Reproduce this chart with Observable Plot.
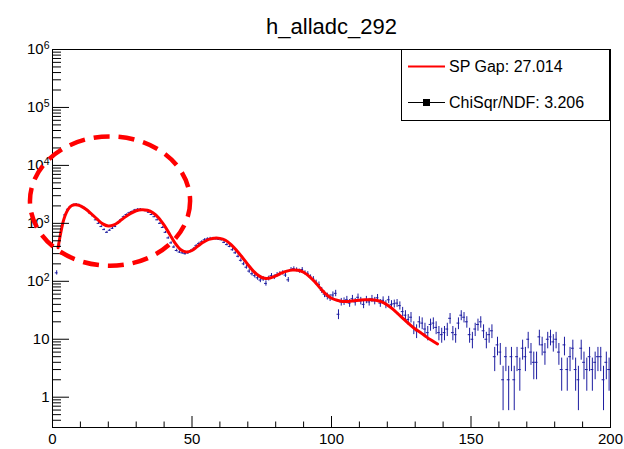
<!DOCTYPE html>
<html><head><meta charset="utf-8">
<script src="https://cdn.jsdelivr.net/npm/d3@7"></script>
<script src="https://cdn.jsdelivr.net/npm/@observablehq/plot@0.6"></script>
<style>
body{margin:0;background:#fff;}
#chart{width:624px;height:449px;}
svg{font-family:"Liberation Sans",Arial,Helvetica,sans-serif;}
</style>
</head><body><div id="chart"></div>
<script>
const title = "h_alladc_292";
// histogram counts, one per bin of width 1 starting at 0
const counts = [
  0,140,420,900,1400,1750,1950,2100,2150,2100,
  1950,1850,1700,1500,1350,1150,1000,880,780,700,
  760,820,880,1000,1150,1300,1420,1520,1600,1700,
  1750,1760,1700,1650,1550,1420,1300,1150,1000,850,
  700,560,460,390,340,320,310,300,310,330,
  360,410,450,480,520,540,550,550,540,530,
  520,470,430,400,350,310,270,230,200,175,
  150,135,125,115,105,110,92,112,125,118,
  130,135,140,128,106,160,165,158,150,160,
  140,135,118,110,95,88,70,60,55,52,
  58,62,27,44,45,48,42,50,44,53,
  46,40,48,44,50,46,52,42,47,40,
  48,40,41,42,38,30,26,22,24,16,
  14,20,19,15,13,18,19,16,13,12,
  13,15,23,13,12,19,26,24,20,12,
  10,15,18,20,14,10,12,14,5,8,
  6,2,5,2,5,2,5,3,7,5,
  10,6,4,4,11,8,6,10,11,9,
  10,6,3,8,3,5,7,3,2,7,
  4,3,5,3,4,5,5,2,4,3
];
// fit curve samples
const fitX = [2,3,4,5,6,7,8,9,10,12,14,16,18,20,22,24,26,28,30,32,34,36,38,40,42,44,46,48,50,52,54,56,58,60,62,64,66,68,70,72,74,76,78,80,82,84,86,88,90,92,94,96,98,100,102,104,106,108,110,112,114,116,118,120,122,124,126,128,130,132,134,136,138];
const fitY = [380,700,1150,1550,1850,2030,2100,2080,2000,1750,1450,1180,980,900,940,1080,1280,1480,1650,1720,1680,1520,1250,930,650,450,350,320,340,400,470,530,555,550,510,430,340,260,195,150,124,113,114,124,138,150,157,155,143,122,98,76,60,51,47,45,45,46,47,48,48,47,44,39,33,27,22,18,15,13,11,9.5,8.3];
const xMajor = [0,50,100,150,200];
const xMinor = [10,20,30,40,60,70,80,90,110,120,130,140,160,170,180,190];
const yMajor = [1,10,100,1e3,1e4,1e5,1e6];
const yLabels = ["1","10","10^2","10^3","10^4","10^5","10^6"];
const legendLabels = ["SP Gap: 27.014","ChiSqr/NDF: 3.206"];
const ellipseX = [-7.9, 49.5];
const ellipseY = [182, 31000];

const yMinor = [];
for (let k = -1; k <= 5; k++) for (let m = 2; m <= 9; m++) { const v = m * 10 ** k; if (v >= 0.35 && v < 1e6) yMinor.push(v); }

const W = 624, H = 449, mL = 52, mR = 14, mT = 49, mB = 22;
const pw = W - mL - mR, ph = H - mT - mB;
const yMin = 0.3, yMax = 1e6;
const blue = "#1c1ca0";

const bins = counts.map((n, i) => ({x0: i, x1: i + 1, xc: i + 0.5, n, lo: Math.max(n - Math.sqrt(n), yMin), hi: n + Math.sqrt(n)})).filter(d => d.n > 0);
const fit = fitX.map((x, i) => ({x, y: fitY[i]}));

const plot = Plot.plot({
  width: W, height: H,
  marginLeft: mL, marginRight: mR, marginTop: mT, marginBottom: mB,
  style: {fontFamily: '"Liberation Sans",Arial,Helvetica,sans-serif', background: "#fff"},
  x: {domain: [0, 200]},
  y: {type: "log", domain: [yMin, yMax]},
  marks: [
    Plot.ruleX(bins, {x: "xc", y1: "lo", y2: "hi", stroke: blue, strokeWidth: 1}),
    Plot.ruleY(bins, {y: "n", x1: "x0", x2: "x1", stroke: blue, strokeWidth: 1}),
    Plot.line(fit, {x: "x", y: "y", stroke: "#ff0000", strokeWidth: 3, curve: "catmull-rom"}),
    Plot.ruleY(yMajor, {y: d => d, insetRight: pw - 17, stroke: "black"}),
    Plot.ruleY(yMinor, {y: d => d, insetRight: pw - 9, stroke: "black"}),
    Plot.ruleX(xMajor, {x: d => d, insetTop: ph - 11, stroke: "black"}),
    Plot.ruleX(xMinor, {x: d => d, insetTop: ph - 5.5, stroke: "black"}),
    Plot.frame({stroke: "black", strokeWidth: 1}),
    Plot.axisX({ticks: xMajor, tickSize: 0, tickPadding: 6, fontSize: 15, tickFormat: d => String(d)}),
    Plot.axisY({ticks: yMajor, tickSize: 0, tickPadding: 3, fontSize: 15, tickFormat: d => yLabels[yMajor.indexOf(d)]}),
    Plot.text([title], {text: d => d, frameAnchor: "top", dy: -31, fontSize: 22, fill: "black"})
  ]
});

const svg = d3.select(plot);
// superscript exponents on log labels
svg.selectAll('g[aria-label="y-axis tick label"] text').each(function() {
  const t = d3.select(this);
  const s = t.text();
  if (s.includes("^")) {
    const [base, exp] = s.split("^");
    t.text(base);
    t.append("tspan").attr("dy", "-0.5em").attr("font-size", 10.5).text(exp);
  }
});

const xs = plot.scale("x"), ys = plot.scale("y");
const ex0 = xs.apply(ellipseX[0]), ex1 = xs.apply(ellipseX[1]);
const ey0 = ys.apply(ellipseY[0]), ey1 = ys.apply(ellipseY[1]);
svg.append("ellipse")
  .attr("cx", (ex0 + ex1) / 2).attr("cy", (ey0 + ey1) / 2)
  .attr("rx", Math.abs(ex1 - ex0) / 2).attr("ry", Math.abs(ey0 - ey1) / 2)
  .attr("fill", "none").attr("stroke", "#ff0000").attr("stroke-width", 4.5)
  .attr("stroke-dasharray", "16 9");

// legend
const lx0 = 401, ly0 = mT, lx1 = W - mR, ly1 = 120;
const lg = svg.append("g").attr("text-anchor", "start");
lg.append("rect").attr("x", lx0 + 0.5).attr("y", ly0 + 0.5).attr("width", lx1 - lx0 - 1).attr("height", ly1 - ly0).attr("fill", "white").attr("stroke", "black");
const rows = [66.5, 102.5];
lg.append("line").attr("x1", 408).attr("x2", 445).attr("y1", rows[0]).attr("y2", rows[0]).attr("stroke", "#ff0000").attr("stroke-width", 2);
lg.append("line").attr("x1", 408).attr("x2", 445).attr("y1", rows[1]).attr("y2", rows[1]).attr("stroke", "black").attr("stroke-width", 1);
lg.append("rect").attr("x", 423).attr("y", rows[1] - 3.5).attr("width", 7).attr("height", 7).attr("fill", "black");
legendLabels.forEach((s, i) => {
  lg.append("text").attr("x", 449).attr("y", rows[i]).attr("dy", "0.36em").attr("font-size", 16).attr("text-anchor", "start").attr("fill", "black").text(s);
});

document.getElementById("chart").appendChild(plot);
</script>
</body></html>
